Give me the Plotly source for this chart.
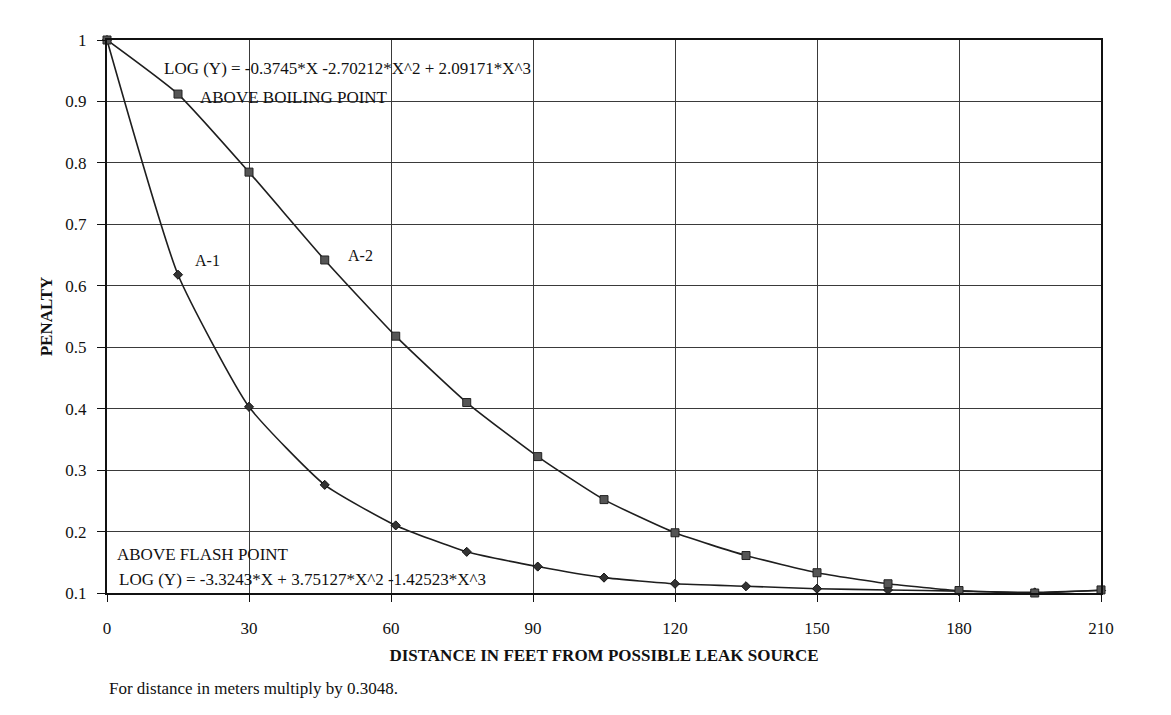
import plotly.graph_objects as go

# distances (ft)
dist = [0, 15, 30, 46, 61, 76, 91, 105, 120, 135, 150, 165, 180, 196, 210]
# A-2 : above boiling point (squares)
a2 = [1.0, 0.912, 0.785, 0.642, 0.518, 0.410, 0.322, 0.252, 0.198, 0.161, 0.133, 0.115, 0.104, 0.100, 0.105]
# A-1 : above flash point (diamonds)
a1 = [1.0, 0.618, 0.403, 0.276, 0.210, 0.167, 0.143, 0.125, 0.115, 0.111, 0.107, 0.105, 0.103, 0.101, 0.104]

x_ticks = [0, 30, 60, 90, 120, 150, 180, 210]
y_ticks = [0.1, 0.2, 0.3, 0.4, 0.5, 0.6, 0.7, 0.8, 0.9, 1]
y_tick_text = ["0.1", "0.2", "0.3", "0.4", "0.5", "0.6", "0.7", "0.8", "0.9", "1"]

FONT = "Liberation Serif, Times New Roman, serif"

fig = go.Figure()
fig.add_trace(go.Scatter(
    x=dist, y=a1, mode="lines+markers", name="A-1",
    line=dict(color="#1e1e1e", width=1.6, shape="spline", smoothing=0.5),
    marker=dict(symbol="diamond", size=7, color="#333333", line=dict(color="#111111", width=1)),
    cliponaxis=False, showlegend=False))
fig.add_trace(go.Scatter(
    x=dist, y=a2, mode="lines+markers", name="A-2",
    line=dict(color="#1e1e1e", width=1.6, shape="spline", smoothing=0.5),
    marker=dict(symbol="square", size=8, color="#555555", line=dict(color="#222222", width=1)),
    cliponaxis=False, showlegend=False))

annots = [
    dict(x=11.6, y=0.953, text="LOG (Y) = -0.3745*X -2.70212*X^2 + 2.09171*X^3", size=17),
    dict(x=19.2, y=0.907, text="ABOVE BOILING POINT", size=17),
    dict(x=50.5, y=0.649, text="A-2", size=16),
    dict(x=18.2, y=0.641, text="A-1", size=16),
    dict(x=1.7, y=0.1626, text="ABOVE FLASH POINT", size=17),
    dict(x=2.1, y=0.122, text="LOG (Y) = -3.3243*X + 3.75127*X^2 -1.42523*X^3", size=17),
]
for a in annots:
    fig.add_annotation(x=a["x"], y=a["y"], xref="x", yref="y", text=a["text"],
                       showarrow=False, xanchor="left", yanchor="middle",
                       font=dict(family=FONT, size=a["size"], color="#111111"))

fig.add_annotation(x=0, y=0, xref="paper", yref="paper", yshift=-95,
                   text="For distance in meters multiply by 0.3048.",
                   showarrow=False, xanchor="left", yanchor="middle",
                   font=dict(family=FONT, size=17, color="#111111"))

fig.update_layout(
    width=1155, height=699,
    margin=dict(l=99, r=62, t=32, b=114),
    paper_bgcolor="white", plot_bgcolor="white",
    font=dict(family=FONT, size=17, color="#111111"),
    xaxis=dict(range=[0, 210], tickvals=x_ticks, ticks="outside", ticklen=7,
               tickcolor="#111", showline=True, linecolor="#111", linewidth=2, mirror=True,
               showgrid=True, gridcolor="#3a3a3a", gridwidth=1, zeroline=False,
               tickfont=dict(family=FONT, size=17), ticklabelstandoff=12,
               title=dict(text="<b>DISTANCE IN FEET FROM POSSIBLE LEAK SOURCE</b>",
                          font=dict(family=FONT, size=17), standoff=12)),
    yaxis=dict(range=[0.1, 1.0], tickvals=y_ticks, ticktext=y_tick_text, ticks="outside",
               ticklen=8, tickcolor="#111", showline=True, linecolor="#111", linewidth=2,
               mirror=True, showgrid=True, gridcolor="#3a3a3a", gridwidth=1, zeroline=False,
               tickfont=dict(family=FONT, size=17), ticklabelstandoff=7,
               title=dict(text="<b>PENALTY</b>", font=dict(family=FONT, size=17), standoff=8)),
)

fig.write_html("out.html")
